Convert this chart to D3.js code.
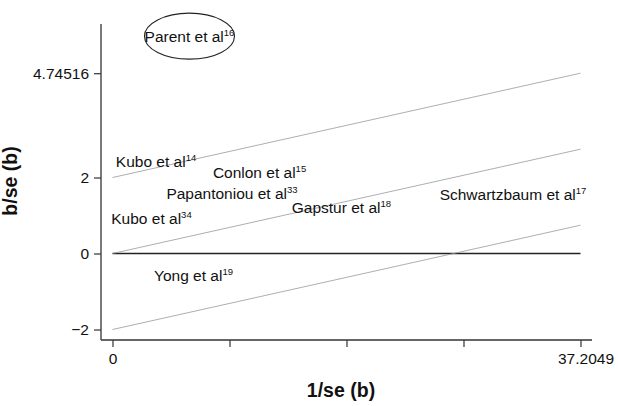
<!DOCTYPE html>
<html>
<head>
<meta charset="utf-8">
<script src="https://cdn.jsdelivr.net/npm/d3@7/dist/d3.min.js"></script>
<style>
  body { margin: 0; background: #fff; }
  text { font-family: "Liberation Sans", Arial, sans-serif; fill: #111; }
</style>
</head>
<body>
<div id="chart"></div>
<script>
'use strict';

// studies: label, superscript ref, 1/se (b), b/se (b)
var studies = ["Kubo et al", "Conlon et al", "Papantoniou et al", "Kubo et al",
               "Gapstur et al", "Schwartzbaum et al", "Yong et al", "Parent et al"];
var refs = ["14", "15", "33", "34", "18", "17", "19", "16"];
var precision = [3.46, 11.69, 9.50, 3.10, 18.20, 31.84, 6.44, 6.12];
var zScores = [2.41, 2.12, 1.57, 0.93, 1.20, 1.54, -0.57, 5.72];
var outliers = ["16"];

// reference lines: b/se = slope * 1/se + intercept
var intercepts = [2, 0, -2];
var xMax = 37.2049;
var yTop = 4.74516;
var slope = (yTop - 2) / xMax;

var xTicks = [0, xMax / 4, xMax / 2, xMax * 3 / 4, xMax];
var yTicks = [-2, 0, 2, yTop];

var width = 618, height = 406;

var svg = d3.select("#chart").append("svg")
    .attr("width", width)
    .attr("height", height);

var x = d3.scaleLinear().domain([-0.914, 38.12]).range([101, 592]);
var y = d3.scaleLinear().domain([-2.276, 6.04]).range([340, 24]);

// axes
var xAxis = d3.axisBottom(x)
    .tickValues(xTicks)
    .tickSize(7)
    .tickPadding(6)
    .tickFormat(function(d) { return (d === 0 || d === xMax) ? d3.format("")(d) : ""; });

var gx = svg.append("g").attr("transform", "translate(0,340)").call(xAxis);
gx.select(".domain").remove();
gx.append("line").attr("x1", 101).attr("x2", 592).attr("y1", 0).attr("y2", 0)
    .attr("stroke", "#333").attr("stroke-width", 1.3);
gx.selectAll(".tick line").attr("stroke", "#333").attr("stroke-width", 1.2);
gx.selectAll(".tick text").attr("font-size", "15.5px").attr("fill", "#111")
    .attr("font-family", "Liberation Sans, Arial, sans-serif")
    .attr("dx", function(d) { return d === xMax ? 5 : 0; });

var yAxis = d3.axisLeft(y)
    .tickValues(yTicks)
    .tickSize(7)
    .tickPadding(5)
    .tickFormat(function(d) { return d === yTop ? "4.74516" : d3.format("")(d); });

var gy = svg.append("g").attr("transform", "translate(101,0)").call(yAxis);
gy.select(".domain").remove();
gy.append("line").attr("x1", 0).attr("x2", 0).attr("y1", 24).attr("y2", 340)
    .attr("stroke", "#333").attr("stroke-width", 1.3);
gy.selectAll(".tick line").attr("stroke", "#333").attr("stroke-width", 1.2);
gy.selectAll(".tick text").attr("font-size", "15.5px").attr("fill", "#111")
    .attr("font-family", "Liberation Sans, Arial, sans-serif");

// zero line
svg.append("line")
    .attr("x1", x(0)).attr("x2", x(xMax))
    .attr("y1", y(0)).attr("y2", y(0))
    .attr("stroke", "#222").attr("stroke-width", 1.5);

// regression line and +/-2 limits
svg.selectAll(".refline")
    .data(intercepts)
    .enter().append("line")
    .attr("class", "refline")
    .attr("x1", x(0)).attr("x2", x(xMax))
    .attr("y1", function(d) { return y(d); })
    .attr("y2", function(d) { return y(d + slope * xMax); })
    .attr("stroke", "#999").attr("stroke-width", 0.8);

// study labels
var labels = svg.selectAll(".study")
    .data(studies)
    .enter().append("text")
    .attr("class", "study")
    .attr("x", function(d, i) { return x(precision[i]); })
    .attr("y", function(d, i) { return y(zScores[i]) + 5.5; })
    .attr("text-anchor", "middle")
    .attr("font-size", "15.5px");

labels.append("tspan").text(function(d) { return d; });
labels.append("tspan")
    .attr("dy", -6)
    .attr("font-size", "9.5px")
    .text(function(d, i) { return refs[i]; });

// outlier ring
refs.forEach(function(r, i) {
    if (outliers.indexOf(r) < 0) return;
    svg.append("ellipse")
        .attr("cx", x(precision[i]))
        .attr("cy", y(zScores[i]))
        .attr("rx", 45)
        .attr("ry", 23)
        .attr("fill", "none")
        .attr("stroke", "#222")
        .attr("stroke-width", 1.1);
});

// axis titles
svg.append("text")
    .attr("x", 341)
    .attr("y", 397)
    .attr("text-anchor", "middle")
    .attr("font-size", "19.5px")
    .attr("font-weight", "bold")
    .text("1/se (b)");

svg.append("text")
    .attr("transform", "translate(17,181) rotate(-90)")
    .attr("text-anchor", "middle")
    .attr("font-size", "19.5px")
    .attr("font-weight", "bold")
    .text("b/se (b)");
</script>
</body>
</html>
